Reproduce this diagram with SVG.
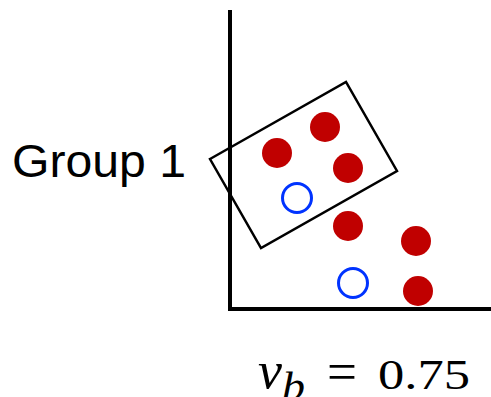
<svg xmlns="http://www.w3.org/2000/svg" width="491" height="397" viewBox="0 0 491 397">
<style>
.red{fill:#c00000}
.blue{fill:none;stroke:#0033ff;stroke-width:3}
.axis{stroke:#000;stroke-width:4;fill:none}
.box{stroke:#000;stroke-width:2.5;fill:none}
.lbl{font-family:"Liberation Sans",Arial,sans-serif;font-size:46px;fill:#000}
.math{font-family:"Liberation Serif","DejaVu Serif",serif;fill:#000}
</style>
<rect width="491" height="397" fill="#fff"/>
<g id="axes">
<path class="axis" d="M230,10 V309 H491"/>
</g>
<g id="group1">
<polygon class="box" points="210,159 346,82 397,171 261,248"/>
</g>
<g id="points">
<circle class="red" cx="277" cy="153" r="15"/>
<circle class="red" cx="325" cy="127" r="15"/>
<circle class="red" cx="348" cy="168" r="15"/>
<circle class="red" cx="348" cy="226" r="15"/>
<circle class="red" cx="416" cy="241" r="15"/>
<circle class="red" cx="418" cy="291" r="15"/>
<circle class="blue" cx="297" cy="198" r="14.5"/>
<circle class="blue" cx="353" cy="283" r="14.5"/>
</g>
<g id="labels">
<text class="lbl" x="12" y="177" textLength="174" lengthAdjust="spacingAndGlyphs">Group 1</text>
<text class="math" x="258" y="388" font-size="52" font-style="italic" textLength="24" lengthAdjust="spacingAndGlyphs">v</text>
<text class="math" x="282" y="400" font-size="40" font-style="italic" textLength="23" lengthAdjust="spacingAndGlyphs">b</text>
<text class="math" x="327" y="390" font-size="54" textLength="30" lengthAdjust="spacingAndGlyphs">=</text>
<text class="math" x="378" y="389" font-size="43" textLength="92" lengthAdjust="spacingAndGlyphs">0.75</text>
</g>
</svg>
